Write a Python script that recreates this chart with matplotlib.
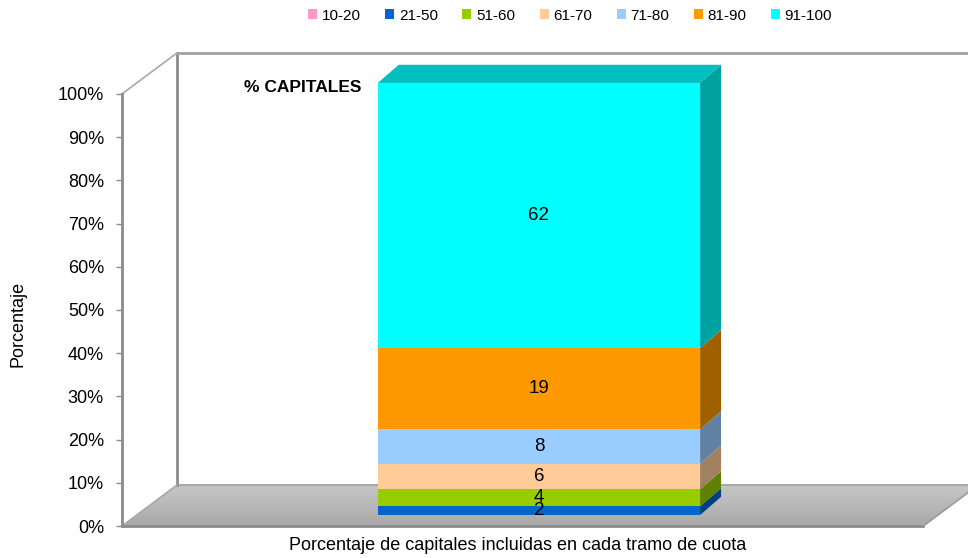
import matplotlib.pyplot as plt
import numpy as np
from matplotlib.patches import Polygon, Patch

plt.rcParams['font.family'] = ['Liberation Sans', 'DejaVu Sans']

# Data
tramos = ['10-20', '21-50', '51-60', '61-70', '71-80', '81-90', '91-100']
capitales = [0, 2, 4, 6, 8, 19, 62]
colores = ['#ff99cc', '#0066cc', '#99cc00', '#ffcc99', '#99ccff', '#ff9900', '#00ffff']
categoria = ['% CAPITALES']
yticks = [0, 10, 20, 30, 40, 50, 60, 70, 80, 90, 100]

W, H = 968, 558
fig = plt.figure(figsize=(W / 100, H / 100), dpi=100)
# axes from x=122px to right edge, y from bottom to 30px
ax = fig.add_axes([122 / W, 0, 1 - 122 / W, 1 - 30 / H])
ax.set_xlim(-1.0, 1.1)
ax.set_ylim(-7.4, 114.8)

# 3D helpers (data units)
wall_dx, wall_dy = 0.1366, 9.5     # depth of the box
bar_sx, bar_sy = 0.035, 2.55       # bar front shift into the box
bar_dx, bar_dy = 0.052, 4.2        # bar depth
floor_right = 0.989


def shade(c, f):
    r, g, b = [int(c[i:i + 2], 16) / 255 for i in (1, 3, 5)]
    return (r * f, g * f, b * f)


# floor with gradient
floor = Polygon([(-1.0, 0), (floor_right, 0), (floor_right + wall_dx, wall_dy),
                 (-1.0 + wall_dx, wall_dy)], closed=True, facecolor='none',
                edgecolor='none')
ax.add_patch(floor)
grad = np.linspace(0.78, 0.66, 100).reshape(-1, 1)
im = ax.imshow(grad, cmap='gray', vmin=0, vmax=1, aspect='auto',
               extent=[-1.0, floor_right + wall_dx, 0, wall_dy], origin='upper',
               zorder=0.5)
im.set_clip_path(floor)
ax.plot([-1.0, floor_right], [0, 0], color='#8a8a8a', lw=2, zorder=1, clip_on=False)
ax.plot([floor_right, floor_right + wall_dx], [0, wall_dy], color='#9a9a9a', lw=1.2,
        zorder=1, clip_on=False)
ax.plot([-1.0 + wall_dx, 1.2], [wall_dy, wall_dy], color='#a8a8a8', lw=1.5, zorder=1)

# walls
ax.plot([-1.0 + wall_dx, -1.0 + wall_dx], [wall_dy, 100 + wall_dy], color='#8c8c8c', lw=2,
        zorder=1)
ax.plot([-1.0 + wall_dx, 1.2], [100 + wall_dy, 100 + wall_dy], color='#a0a0a0', lw=2,
        zorder=1)
ax.plot([-1.0, -1.0 + wall_dx], [100, 100 + wall_dy], color='#a8a8a8', lw=1.2, zorder=1,
        clip_on=False)
ax.plot([-1.0, -1.0 + wall_dx], [0, wall_dy], color='#a8a8a8', lw=1.2, zorder=1,
        clip_on=False)

# stacked 100% bar
vals = np.array(capitales, dtype=float)
pct = vals / vals.sum() * 100
bottoms = np.concatenate([[0], np.cumsum(pct)[:-1]])
x0 = 0.0
width = 0.8
xl = x0 - width / 2 + bar_sx
xr = x0 + width / 2 + bar_sx
for v, p, b, c in zip(capitales, pct, bottoms, colores):
    if p <= 0:
        continue
    ax.bar(x0 + bar_sx, p, width=width, bottom=b + bar_sy, color=c, zorder=3)
    side = Polygon([(xr, b + bar_sy), (xr + bar_dx, b + bar_sy + bar_dy),
                    (xr + bar_dx, b + p + bar_sy + bar_dy), (xr, b + p + bar_sy)],
                   closed=True, facecolor=shade(c, 0.63), edgecolor='none', zorder=2)
    ax.add_patch(side)
    ax.text(x0 + bar_sx, b + p / 2 + bar_sy, str(v), ha='center', va='center',
            fontsize=13.5, color='black', zorder=4)
top = bottoms[-1] + pct[-1] + bar_sy
ax.add_patch(Polygon([(xl, top), (xr, top), (xr + bar_dx, top + bar_dy),
                      (xl + bar_dx, top + bar_dy)], closed=True,
                     facecolor=shade(colores[-1], 0.75), edgecolor='none', zorder=2))

ax.text(-0.698, 101.4, categoria[0], ha='left', va='center', fontsize=12.5,
        fontweight='bold')

# axis
for s in ['top', 'right', 'bottom']:
    ax.spines[s].set_visible(False)
ax.spines['left'].set_bounds(0, 100)
ax.spines['left'].set_color('#8c8c8c')
ax.spines['left'].set_linewidth(2)
ax.set_yticks(yticks)
ax.set_yticklabels([f'{t}%' for t in yticks], fontsize=13)
ax.tick_params(axis='y', length=4, width=1, color='#8c8c8c', pad=9)
ax.set_xticks([])

fig.text(18 / W, 1 - 324 / H, 'Porcentaje', rotation=90, ha='center', va='center',
         fontsize=13)
fig.text(518 / W, 1 - 545 / H, 'Porcentaje de capitales incluidas en cada tramo de cuota',
         ha='center', va='center', fontsize=13)

handles = [Patch(facecolor=c, edgecolor='none', label=t) for t, c in zip(tramos, colores)]
fig.legend(handles=handles, loc='upper center', bbox_to_anchor=(570 / W, 1.009), ncol=7,
           frameon=False, fontsize=11, handlelength=0.6, handleheight=0.6,
           handletextpad=0.3, columnspacing=1.6)

fig.savefig('out.png', dpi=100)
